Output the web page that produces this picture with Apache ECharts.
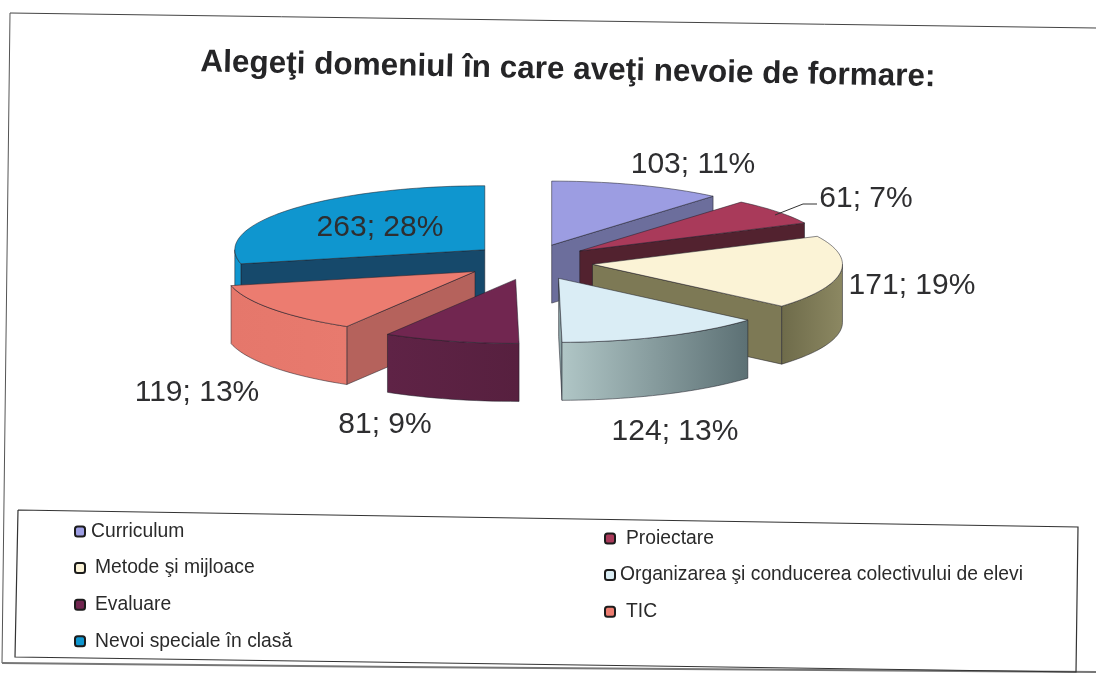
<!DOCTYPE html>
<html><head><meta charset="utf-8">
<style>html,body{margin:0;padding:0;background:#fff}#c{width:1096px;height:673px}</style>
<script src="https://cdn.jsdelivr.net/npm/echarts@6/dist/echarts.min.js"></script></head>
<body><div id="c"></div>
<script>
const categories = ['Curriculum','Proiectare','Metode şi mijloace','Organizarea şi conducerea colectivului de elevi','Evaluare','TIC','Nevoi speciale în clasă'];
const values = [103,61,171,124,81,119,263];
const percents = [11,7,19,13,9,13,28];
const titleText = 'Alegeţi domeniul în care aveţi nevoie de formare:';

const topColors = ['#9C9DE2','#A93A5A','#FBF3D6','#DAEDF5','#712650','#EC7C70','#0F96CF'];
const outerWall = [['#6A6C98','#6A6C98'],['#4E1F2C','#4E1F2C'],['#6E6B4A','#8C8862'],['#B0C6C6','#5C7074'],['#5F2346','#57203F'],['#E5776B','#E87A6E'],['#0F96CF','#0F96CF']];
const radialWall = ['#6C6E9C','#52222F','#7D7955','#8FA6A8','#5F2346','#B5625C','#16496B'];
const labelAt = [[693,165],[866,199],[912,286],[675,432],[385,425],[197,393],[380,228]];
const nudge = [[0,0],[0,0],[0,0],[2,0],[2,0],[-4,-1],[4,-1]];
const legendLeft = ['Curriculum','Metode şi mijloace','Evaluare','Nevoi speciale în clasă'];
const legendLeftPad = [1,5,5,5];
const legendRight = ['Proiectare','Organizarea şi conducerea colectivului de elevi','TIC'];
const legendRightPad = [6,0,6];

const C = {x:530,y:262,rx:250,ry:64,ex:63,ey:18,depth:58};
const total = values.reduce((a,b)=>a+b,0);
const rad = d => d*Math.PI/180;
const starts = []; values.reduce((acc,v,i)=>{starts[i]=acc; return acc+v/total*360;},0);

function arc(ax,ay,a0,a1,dy){
  const pts=[]; const n=Math.max(2,Math.ceil((a1-a0)/2));
  for(let k=0;k<=n;k++){const a=rad(a0+(a1-a0)*k/n);pts.push([ax+C.rx*Math.sin(a),ay-C.ry*Math.cos(a)+dy]);}
  return pts;
}
function renderSlice(i){
  return function(params,api){
    const v=api.value(0), a0=starts[i], a1=a0+v/total*360, mid=rad((a0+a1)/2);
    const ax=C.x+C.ex*Math.sin(mid)+nudge[i][0], ay=C.y-C.ey*Math.cos(mid)+nudge[i][1];
    const edge={stroke:'rgba(30,30,40,0.75)',lineWidth:0.7};
    const kids=[];
    const face=(deg)=>{const a=rad(deg),ex=ax+C.rx*Math.sin(a),ey=ay-C.ry*Math.cos(a);
      kids.push({type:'polygon',shape:{points:[[ax,ay],[ex,ey],[ex,ey+C.depth],[ax,ay+C.depth]]},style:Object.assign({fill:radialWall[i]},edge)});};
    if(a0>180) face(a0);
    if(a1<180) face(a1);
    const w0=Math.max(a0,90), w1=Math.min(a1,270);
    if(w1>w0){
      const t=arc(ax,ay,w0,w1,0), b=arc(ax,ay,w0,w1,C.depth).reverse();
      kids.push({type:'polygon',shape:{points:t.concat(b)},style:Object.assign({fill:{type:'linear',x:0,y:0,x2:1,y2:0,colorStops:[{offset:0,color:outerWall[i][0]},{offset:1,color:outerWall[i][1]}]}},edge)});
    }
    kids.push({type:'polygon',shape:{points:[[ax,ay]].concat(arc(ax,ay,a0,a1,0))},style:Object.assign({fill:topColors[i]},edge)});
    if(i===1){kids.push({type:'polyline',shape:{points:[[775,215],[803,204],[817,204]]},style:{stroke:'#333',lineWidth:1,fill:null}});}
    kids.push({type:'text',x:labelAt[i][0],y:labelAt[i][1],style:{text:v+'; '+percents[i]+'%',fill:'#2e2e30',font:'30px "Liberation Sans"',align:'center',verticalAlign:'middle'}});
    return {type:'group',children:kids};
  };
}
const depthRank = values.map((v,i)=>-Math.cos(rad(starts[i]+v/total*180)));
const series = categories.map((name,i)=>({
  type:'custom',name,coordinateSystem:'none',silent:true,animation:false,
  z:3+Math.round((depthRank[i]+1)*20),
  itemStyle:{color:topColors[i]},
  renderItem:renderSlice(i),
  data:[[values[i]]]
}));
const legendItems=(names,pads)=>names.map((name,i)=>({name,textStyle:{padding:[0,0,0,pads[i]]}}));
const legendCommon = {orient:'vertical',icon:'roundRect',itemWidth:10,itemHeight:10,itemGap:17.6,padding:0,selectedMode:false,
  itemStyle:{borderColor:'#1c1c1c',borderWidth:2},textStyle:{fontFamily:'Liberation Sans',fontSize:19.3,color:'#2a2a2a'}};
const line=(p,w,c)=>({type:'polyline',silent:true,z:1,shape:{points:p},style:{stroke:c||'#333',lineWidth:w||1,fill:null}});
const chart=echarts.init(document.getElementById('c'),null,{renderer:'canvas'});
chart.setOption({
  backgroundColor:'#fff',animation:false,
  legend:[
    Object.assign({},legendCommon,{left:74,top:522,data:legendItems(legendLeft,legendLeftPad)}),
    Object.assign({},legendCommon,{left:604,top:529,data:legendItems(legendRight,legendRightPad)})
  ],
  series,
  graphic:[
    line([[10,13],[1096,28]],1,'#444'),
    line([[10,13],[2,663]],1,'#555'),
    line([[2,663],[400,667],[1096,672]],2,'#777'),
    line([[18,510],[1078,527],[1076,672],[15,657],[18,510]],1.2,'#333'),
    {type:'text',z:50,x:568,y:70,rotation:-0.0204,style:{text:titleText,font:'bold 31.5px "Liberation Sans"',fill:'#252527',align:'center',verticalAlign:'middle'}}
  ]
});
</script></body></html>
